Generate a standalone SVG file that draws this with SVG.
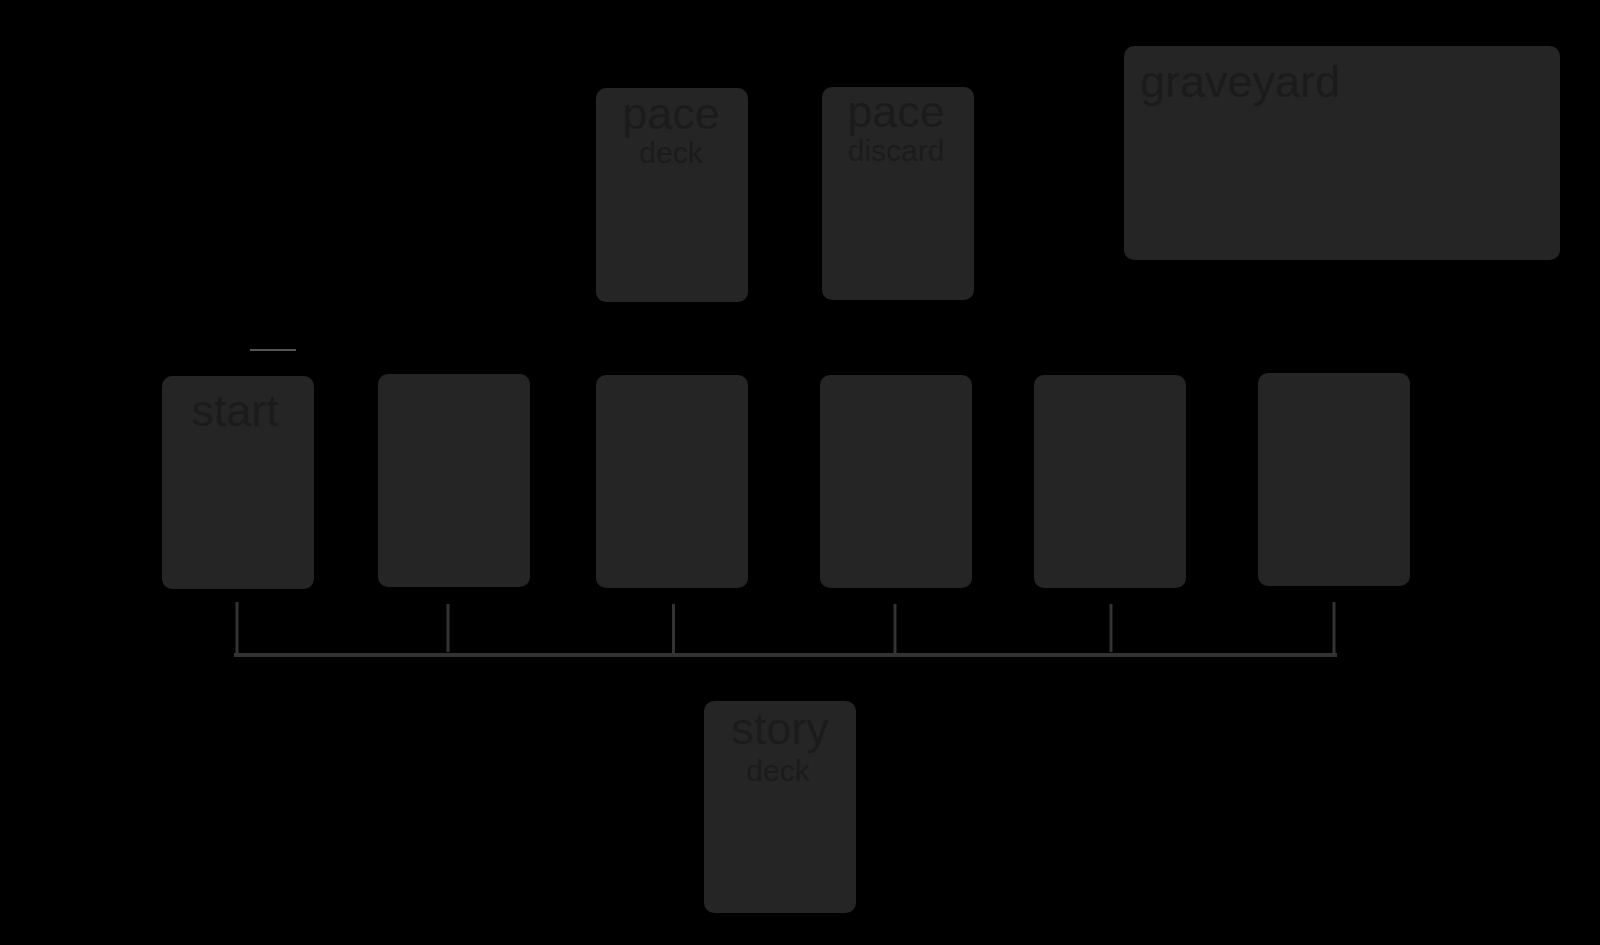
<svg xmlns="http://www.w3.org/2000/svg" width="1600" height="945" viewBox="0 0 1600 945">
<style>
.card{fill:#252525}
.big{font-family:"Liberation Sans",Arial,sans-serif;font-size:45px;fill:#1b1b1b}
.small{font-family:"Liberation Sans",Arial,sans-serif;font-size:30px;fill:#1b1b1b}
.link{stroke:#333;stroke-width:3;fill:none}
</style>
<rect width="1600" height="945" fill="#000"/>
<g id="pace-deck"><rect class="card" x="596" y="88" width="152" height="214" rx="10"/><text class="big" x="671" y="129" text-anchor="middle">pace</text><text class="small" x="671" y="163" text-anchor="middle">deck</text></g>
<g id="pace-discard"><rect class="card" x="822" y="87" width="152" height="213" rx="10"/><text class="big" x="896" y="127" text-anchor="middle">pace</text><text class="small" x="896" y="161" text-anchor="middle">discard</text></g>
<g id="graveyard"><rect class="card" x="1124" y="46" width="436" height="214" rx="10"/><text class="big" x="1140" y="97">graveyard</text></g>
<g id="start"><rect class="card" x="162" y="376" width="152" height="213" rx="10"/><text class="big" x="235" y="426" text-anchor="middle">start</text></g>
<g id="slot2"><rect class="card" x="378" y="374" width="152" height="213" rx="10"/></g>
<g id="slot3"><rect class="card" x="596" y="375" width="152" height="213" rx="10"/></g>
<g id="slot4"><rect class="card" x="820" y="375" width="152" height="213" rx="10"/></g>
<g id="slot5"><rect class="card" x="1034" y="375" width="152" height="213" rx="10"/></g>
<g id="slot6"><rect class="card" x="1258" y="373" width="152" height="213" rx="10"/></g>
<g id="story-deck"><rect class="card" x="704" y="701" width="152" height="212" rx="10"/><text class="big" x="780" y="744" text-anchor="middle">story</text><text class="small" x="778" y="781" text-anchor="middle">deck</text></g>
<g id="connectors">
<path class="link" d="M237 602V655M448 604V652M673.5 604V655M895 604V655M1111 604V652M1334 602V655"/>
<path d="M234 655H1337" stroke="#333" stroke-width="4"/>
<path d="M250 350H296" stroke="#555" stroke-width="2"/>
</g>
</svg>
